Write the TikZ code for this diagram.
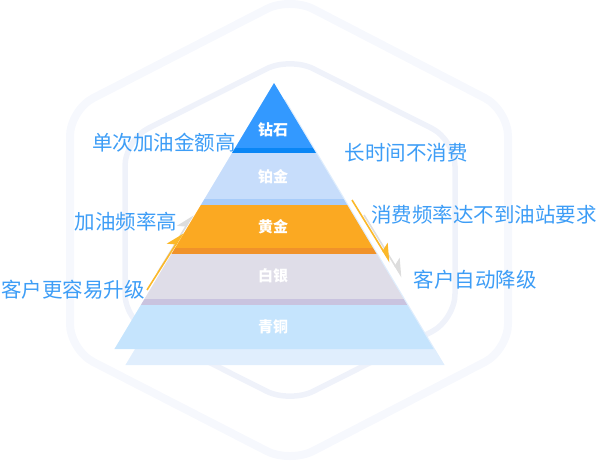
\documentclass[tikz,border=0pt]{standalone}
\usepackage{fontspec}
\setmainfont{Noto Sans CJK SC}
\usetikzlibrary{arrows.meta}
\definecolor{hexouter}{HTML}{F6F8FD}
\definecolor{hexinner}{HTML}{EFF2FA}
\definecolor{notetext}{HTML}{3D9DF6}
\definecolor{diamondfill}{HTML}{3399FF}
\definecolor{diamonddark}{HTML}{0A86F5}
\definecolor{platinumfill}{HTML}{C7DDFB}
\definecolor{platinumdark}{HTML}{A8CCF9}
\definecolor{goldfill}{HTML}{FBA922}
\definecolor{golddark}{HTML}{F0922A}
\definecolor{silverfill}{HTML}{DFDDE8}
\definecolor{silverdark}{HTML}{C9C3DF}
\definecolor{bronzefill}{HTML}{C5E4FD}
\definecolor{shadowblue}{HTML}{E0EEFD}
\definecolor{arrowyellow}{HTML}{FBB829}
\definecolor{arrowgray}{HTML}{DDDDDD}

\begin{document}
\begin{tikzpicture}[x=1pt, y=-1pt,
  hexline/.style={line width=7pt, rounded corners=26pt},
  tier/.style={font=\fontsize{15}{18}\selectfont\bfseries, text=white, inner sep=0pt},
  note/.style={font=\fontsize{20.5}{24}\selectfont, text=notetext, inner sep=0pt},
  move/.style={line width=1.6pt, -{Stealth[left, length=16pt, width=16pt, inset=4pt]}}
]
  \useasboundingbox (0,0) rectangle (600,461);

  \draw[hexline, hexouter, line width=8pt] (290,-3) -- (508,110) -- (508,350) -- (290,463)
    -- (70,350) -- (70,110) -- cycle;
  \draw[hexline, hexinner, line width=5.5pt] (290,57) -- (455,140) -- (455,320) -- (290,403)
    -- (125,320) -- (125,140) -- cycle;

  \fill[shadowblue] (285,99) -- (444.6,365) -- (125.4,365) -- cycle;
  \begin{scope}
    \clip (274,83) -- (433.6,349) -- (114.4,349) -- cycle;
    \fill[diamondfill]  (100,70)  rectangle (450,148);
    \fill[diamonddark]  (100,148) rectangle (450,153);
    \fill[platinumfill] (100,153) rectangle (450,199);
    \fill[platinumdark] (100,199) rectangle (450,205);
    \fill[goldfill]     (100,205) rectangle (450,248);
    \fill[golddark]     (100,248) rectangle (450,254);
    \fill[silverfill]   (100,254) rectangle (450,299);
    \fill[silverdark]   (100,299) rectangle (450,305);
    \fill[bronzefill]   (100,305) rectangle (450,350);
  \end{scope}

  \node[tier] (diamond)  at (273,130) {钻石};
  \node[tier] (platinum) at (273,177) {铂金};
  \node[tier] (gold)     at (273,227) {黄金};
  \node[tier] (silver)   at (273,276) {白银};
  \node[tier] (bronze)   at (273,327) {青铜};

  \node[note] (bigfill)  at (164,143) {单次加油金额高};
  \node[note] (idle)     at (406,153) {长时间不消费};
  \node[note] (lowfreq)  at (484,215) {消费频率达不到油站要求};
  \node[note] (highfreq) at (126,222) {加油频率高};
  \node[note] (easyup)   at (73,290)  {客户更容易升级};
  \node[note] (autodown) at (475,280) {客户自动降级};

  \coordinate (upfrom)      at (158,272);
  \coordinate (upto)        at (193,215);
  \coordinate (upfromfront) at (147,290);
  \coordinate (uptofront)   at (183,233);
  \coordinate (downfrom)      at (364,215);
  \coordinate (downto)        at (402,277);
  \coordinate (downfromfront) at (352,200);
  \coordinate (downtofront)   at (390,262);

  \draw[move, arrowgray]   (upfrom) -- (upto);
  \draw[move, arrowyellow] (upfromfront) -- (uptofront);
  \draw[move, arrowgray]   (downfrom) -- (downto);
  \draw[move, arrowyellow] (downfromfront) -- (downtofront);
\end{tikzpicture}
\end{document}
